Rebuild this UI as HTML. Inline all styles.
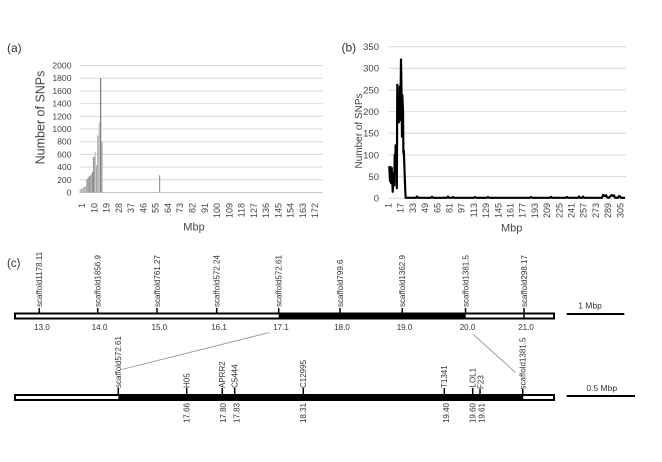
<!DOCTYPE html>
<html>
<head>
<meta charset="utf-8">
<style>
html,body{margin:0;padding:0;background:#fff;}
svg{display:block;}
text{font-family:"Liberation Sans",Arial,sans-serif;}
</style>
</head>
<body>
<svg width="662" height="462" viewBox="0 0 662 462" xmlns="http://www.w3.org/2000/svg">
<rect x="0" y="0" width="662" height="462" fill="#fff"/>

<!-- ===== Panel (a) ===== -->
<text x="7" y="52" font-size="12" fill="#333">(a)</text>
<g stroke="#d9d9d9" stroke-width="1">
<line x1="79.3" y1="65.5" x2="322.7" y2="65.5"/>
<line x1="79.3" y1="78.2" x2="322.7" y2="78.2"/>
<line x1="79.3" y1="90.9" x2="322.7" y2="90.9"/>
<line x1="79.3" y1="103.6" x2="322.7" y2="103.6"/>
<line x1="79.3" y1="116.3" x2="322.7" y2="116.3"/>
<line x1="79.3" y1="129" x2="322.7" y2="129"/>
<line x1="79.3" y1="141.7" x2="322.7" y2="141.7"/>
<line x1="79.3" y1="154.4" x2="322.7" y2="154.4"/>
<line x1="79.3" y1="167.1" x2="322.7" y2="167.1"/>
<line x1="79.3" y1="179.8" x2="322.7" y2="179.8"/>
</g>
<line x1="79.3" y1="192.5" x2="322.7" y2="192.5" stroke="#c8c8c8" stroke-width="1"/>
<g font-size="8.6" fill="#444" text-anchor="end">
<text x="71.5" y="195.5">0</text>
<text x="71.5" y="182.8">200</text>
<text x="71.5" y="170.1">400</text>
<text x="71.5" y="157.4">600</text>
<text x="71.5" y="144.7">800</text>
<text x="71.5" y="132">1000</text>
<text x="71.5" y="119.3">1200</text>
<text x="71.5" y="106.6">1400</text>
<text x="71.5" y="93.9">1600</text>
<text x="71.5" y="81.2">1800</text>
<text x="71.5" y="68.5">2000</text>
</g>
<!-- bars -->
<g>
<rect x="79.6" y="189.6" width="1.25" height="2.9" fill="#bfbfbf"/>
<rect x="80.96" y="189" width="1.25" height="3.5" fill="#a6a6a6"/>
<rect x="82.32" y="187.7" width="1.25" height="4.8" fill="#bfbfbf"/>
<rect x="83.68" y="186.8" width="1.25" height="5.7" fill="#a6a6a6"/>
<rect x="85.04" y="186.1" width="1.25" height="6.4" fill="#bfbfbf"/>
<rect x="86.4" y="179.2" width="1.25" height="13.3" fill="#8c8c8c"/>
<rect x="87.76" y="177.3" width="1.25" height="15.2" fill="#a6a6a6"/>
<rect x="89.12" y="176" width="1.25" height="16.5" fill="#8c8c8c"/>
<rect x="90.48" y="174.7" width="1.25" height="17.8" fill="#a6a6a6"/>
<rect x="91.84" y="172.2" width="1.25" height="20.3" fill="#8c8c8c"/>
<rect x="93.2" y="156.9" width="1.25" height="35.6" fill="#7f7f7f"/>
<rect x="94.56" y="151.9" width="1.25" height="40.6" fill="#bfbfbf"/>
<rect x="95.92" y="165.2" width="1.25" height="27.3" fill="#a6a6a6"/>
<rect x="97.28" y="135.4" width="1.25" height="57.1" fill="#a6a6a6"/>
<rect x="98.64" y="122.7" width="1.25" height="69.8" fill="#bfbfbf"/>
<rect x="100" y="78.2" width="1.25" height="114.3" fill="#7f7f7f"/>
<rect x="101.36" y="141.7" width="1.25" height="50.8" fill="#a6a6a6"/>
<rect x="159" y="175.4" width="1.2" height="17.1" fill="#999"/>
</g>
<g font-size="9" fill="#444" text-anchor="end">
<text transform="translate(82,203) rotate(-90)" dy="0.35em">1</text>
<text transform="translate(94.26,203) rotate(-90)" dy="0.35em">10</text>
<text transform="translate(106.52,203) rotate(-90)" dy="0.35em">19</text>
<text transform="translate(118.78,203) rotate(-90)" dy="0.35em">28</text>
<text transform="translate(131.04,203) rotate(-90)" dy="0.35em">37</text>
<text transform="translate(143.3,203) rotate(-90)" dy="0.35em">46</text>
<text transform="translate(155.56,203) rotate(-90)" dy="0.35em">55</text>
<text transform="translate(167.82,203) rotate(-90)" dy="0.35em">64</text>
<text transform="translate(180.08,203) rotate(-90)" dy="0.35em">73</text>
<text transform="translate(192.34,203) rotate(-90)" dy="0.35em">82</text>
<text transform="translate(204.6,203) rotate(-90)" dy="0.35em">91</text>
<text transform="translate(216.86,203) rotate(-90)" dy="0.35em">100</text>
<text transform="translate(229.12,203) rotate(-90)" dy="0.35em">109</text>
<text transform="translate(241.38,203) rotate(-90)" dy="0.35em">118</text>
<text transform="translate(253.64,203) rotate(-90)" dy="0.35em">127</text>
<text transform="translate(265.9,203) rotate(-90)" dy="0.35em">136</text>
<text transform="translate(278.16,203) rotate(-90)" dy="0.35em">145</text>
<text transform="translate(290.42,203) rotate(-90)" dy="0.35em">154</text>
<text transform="translate(302.68,203) rotate(-90)" dy="0.35em">163</text>
<text transform="translate(314.94,203) rotate(-90)" dy="0.35em">172</text>
</g>
<text x="194" y="230.5" font-size="11" fill="#444" text-anchor="middle">Mbp</text>
<text transform="translate(40,117.5) rotate(-90)" font-size="12.5" fill="#444" text-anchor="middle" dy="0.35em">Number of SNPs</text>

<!-- ===== Panel (b) ===== -->
<text x="341.5" y="51.5" font-size="12" fill="#333">(b)</text>
<g stroke="#d9d9d9" stroke-width="1">
<line x1="388.3" y1="46.7" x2="626" y2="46.7"/>
<line x1="388.3" y1="68.3" x2="626" y2="68.3"/>
<line x1="388.3" y1="90" x2="626" y2="90"/>
<line x1="388.3" y1="111.6" x2="626" y2="111.6"/>
<line x1="388.3" y1="133.3" x2="626" y2="133.3"/>
<line x1="388.3" y1="155" x2="626" y2="155"/>
<line x1="388.3" y1="176.6" x2="626" y2="176.6"/>
<line x1="388.3" y1="198.3" x2="626" y2="198.3"/>
</g>
<g font-size="9.5" fill="#444" text-anchor="end">
<text x="379" y="201.6">0</text>
<text x="379" y="179.9">50</text>
<text x="379" y="158.3">100</text>
<text x="379" y="136.6">150</text>
<text x="379" y="114.9">200</text>
<text x="379" y="93.3">250</text>
<text x="379" y="71.6">300</text>
<text x="379" y="50">350</text>
</g>
<polyline fill="none" stroke="#000" stroke-width="2.2" stroke-linejoin="round" points="
388.5,166.6 389.3,167.1 390,180.9 390.5,167.1 391,183.1 391.7,167.9 392.2,178.8 392.7,191.8 393.3,181 394,173.1 394.3,185.3 394.7,154.9 395.2,172.3 395.6,145.4 396,148.4 396.4,146.3 396.8,188.3 397.3,84.7 397.8,111.6 398.3,94.2 398.8,122.4 399.3,111.6 399.8,86.4 400.3,120.2 401,59.5 401.5,93.3 402,136.7 402.3,95.1 403,111.6 403.4,153.2 403.8,150.6 404.3,163.6 405.2,189.6 405.7,197.8
410,197.8 416,197.8 417,196.5 418,197.8 431,197.8 432,196.8 433,197.8 447,197.8 448,196.6 449,197.8 452,197.8 453,197 454,197.8 474,197.8 475,197 476,197.8 487,197.8 488,196.9 489,197.8 500,197.8 530,197.8 531,197 532,197.8 550,197.8 551,196.9 552,197.8 566,197.8 567,197 568,197.8 578,197.8 579,196.5 580,197.8 582,197.8 583,196.6 584,197.8 602,197.8 603,195 604,195.6 605,196 606,195.2 607,197.2 609,197.8 611,195.5 612,195.2 613,196 614,195.4 615,197.6 618,197.8 619,196 620,196.4 621,197.8 625,197.8"/>
<g font-size="9" fill="#444" text-anchor="end">
<text transform="translate(388.3,203) rotate(-90)" dy="0.35em">1</text>
<text transform="translate(400.5,203) rotate(-90)" dy="0.35em">17</text>
<text transform="translate(412.7,203) rotate(-90)" dy="0.35em">33</text>
<text transform="translate(424.9,203) rotate(-90)" dy="0.35em">49</text>
<text transform="translate(437.1,203) rotate(-90)" dy="0.35em">65</text>
<text transform="translate(449.3,203) rotate(-90)" dy="0.35em">81</text>
<text transform="translate(461.5,203) rotate(-90)" dy="0.35em">97</text>
<text transform="translate(473.7,203) rotate(-90)" dy="0.35em">113</text>
<text transform="translate(485.9,203) rotate(-90)" dy="0.35em">129</text>
<text transform="translate(498.1,203) rotate(-90)" dy="0.35em">145</text>
<text transform="translate(510.3,203) rotate(-90)" dy="0.35em">161</text>
<text transform="translate(522.5,203) rotate(-90)" dy="0.35em">177</text>
<text transform="translate(534.7,203) rotate(-90)" dy="0.35em">193</text>
<text transform="translate(546.9,203) rotate(-90)" dy="0.35em">209</text>
<text transform="translate(559.1,203) rotate(-90)" dy="0.35em">225</text>
<text transform="translate(571.3,203) rotate(-90)" dy="0.35em">241</text>
<text transform="translate(583.5,203) rotate(-90)" dy="0.35em">257</text>
<text transform="translate(595.7,203) rotate(-90)" dy="0.35em">273</text>
<text transform="translate(607.9,203) rotate(-90)" dy="0.35em">289</text>
<text transform="translate(620.1,203) rotate(-90)" dy="0.35em">305</text>
</g>
<text x="511.7" y="231.5" font-size="11" fill="#444" text-anchor="middle">Mbp</text>
<text transform="translate(358.3,131) rotate(-90)" font-size="10" fill="#444" text-anchor="middle" dy="0.35em">Number of SNPs</text>

<!-- ===== Panel (c) ===== -->
<text x="7" y="267" font-size="11.5" fill="#333">(c)</text>

<!-- top chromosome -->
<rect x="15" y="313.5" width="539" height="5" fill="#fff" stroke="#000" stroke-width="2"/>
<rect x="278.7" y="312.5" width="187" height="7" fill="#000"/>
<g stroke="#000" stroke-width="1.5">
<line x1="39.3" y1="308" x2="39.3" y2="314"/>
<line x1="97.7" y1="308" x2="97.7" y2="314"/>
<line x1="157" y1="308" x2="157" y2="314"/>
<line x1="216.7" y1="308" x2="216.7" y2="314"/>
<line x1="278.7" y1="308" x2="278.7" y2="314"/>
<line x1="340" y1="308" x2="340" y2="314"/>
<line x1="402.3" y1="308" x2="402.3" y2="314"/>
<line x1="465.5" y1="308" x2="465.5" y2="314"/>
<line x1="524" y1="308" x2="524" y2="319"/>
</g>
<g font-size="8" fill="#333" text-anchor="start">
<text transform="translate(39.3,307) rotate(-90)" dy="0.35em">scaffold1178.11</text>
<text transform="translate(97.7,307) rotate(-90)" dy="0.35em">scaffold1856.9</text>
<text transform="translate(157,307) rotate(-90)" dy="0.35em">scaffold761.27</text>
<text transform="translate(216.7,307) rotate(-90)" dy="0.35em">scaffold572.24</text>
<text transform="translate(278.7,307) rotate(-90)" dy="0.35em">scaffold572.61</text>
<text transform="translate(340,307) rotate(-90)" dy="0.35em">scaffold799.6</text>
<text transform="translate(402.3,307) rotate(-90)" dy="0.35em">scaffold1362.9</text>
<text transform="translate(465.5,307) rotate(-90)" dy="0.35em">scaffold1381.5</text>
<text transform="translate(524,307) rotate(-90)" dy="0.35em">scaffold298.17</text>
</g>
<g font-size="8" fill="#333" text-anchor="middle">
<text x="42" y="330">13.0</text>
<text x="99.5" y="330">14.0</text>
<text x="159.3" y="330">15.0</text>
<text x="219" y="330">16.1</text>
<text x="281" y="330">17.1</text>
<text x="342" y="330">18.0</text>
<text x="404.5" y="330">19.0</text>
<text x="467.5" y="330">20.0</text>
<text x="526" y="330">21.0</text>
</g>
<line x1="566.7" y1="314" x2="624.3" y2="314" stroke="#000" stroke-width="2"/>
<text x="590" y="308.5" font-size="8.5" fill="#333" text-anchor="middle">1 Mbp</text>

<!-- connector lines -->
<line x1="269.5" y1="332.5" x2="121.7" y2="369.5" stroke="#999" stroke-width="0.9"/>
<line x1="473.3" y1="334.5" x2="515.5" y2="372.5" stroke="#999" stroke-width="0.9"/>

<!-- bottom chromosome -->
<rect x="15" y="395" width="539" height="5" fill="#fff" stroke="#000" stroke-width="2"/>
<rect x="118.3" y="394" width="405" height="7" fill="#000"/>
<g stroke="#000" stroke-width="1.5">
<line x1="118.3" y1="388" x2="118.3" y2="395"/>
<line x1="186.7" y1="388" x2="186.7" y2="395"/>
<line x1="222.3" y1="388" x2="222.3" y2="395"/>
<line x1="234.7" y1="388" x2="234.7" y2="395"/>
<line x1="303.3" y1="388" x2="303.3" y2="395"/>
<line x1="444.3" y1="388" x2="444.3" y2="395"/>
<line x1="472.7" y1="388" x2="472.7" y2="395"/>
<line x1="480" y1="389" x2="480" y2="395"/>
<line x1="522.7" y1="389" x2="522.7" y2="395"/>
</g>
<g font-size="8" fill="#333" text-anchor="start">
<text transform="translate(118.3,388) rotate(-90)" dy="0.35em">scaffold572.61</text>
<text transform="translate(186.7,388) rotate(-90)" dy="0.35em">H05</text>
<text transform="translate(222.3,388) rotate(-90)" dy="0.35em">APRR2</text>
<text transform="translate(234.7,388) rotate(-90)" dy="0.35em">C5444</text>
<text transform="translate(303.3,388) rotate(-90)" dy="0.35em">C12995</text>
<text transform="translate(444.3,388) rotate(-90)" dy="0.35em">T1341</text>
<text transform="translate(472.7,387.5) rotate(-90)" dy="0.35em">LOL1</text>
<text transform="translate(480.5,389) rotate(-90)" dy="0.35em">F23</text>
<text transform="translate(522.7,389.5) rotate(-90)" dy="0.35em">scaffold1381.5</text>
</g>
<g font-size="8" fill="#333" text-anchor="end">
<text transform="translate(186.7,403) rotate(-90)" dy="0.35em">17.66</text>
<text transform="translate(223.3,403) rotate(-90)" dy="0.35em">17.80</text>
<text transform="translate(236.5,403) rotate(-90)" dy="0.35em">17.83</text>
<text transform="translate(303.3,403) rotate(-90)" dy="0.35em">18.31</text>
<text transform="translate(446,403) rotate(-90)" dy="0.35em">19.40</text>
<text transform="translate(472.7,403) rotate(-90)" dy="0.35em">19.60</text>
<text transform="translate(481.7,403) rotate(-90)" dy="0.35em">19.61</text>
</g>
<line x1="566.7" y1="396" x2="635" y2="396" stroke="#000" stroke-width="2"/>
<text x="601.7" y="391" font-size="8.5" fill="#333" text-anchor="middle">0.5 Mbp</text>
</svg>
</body>
</html>
